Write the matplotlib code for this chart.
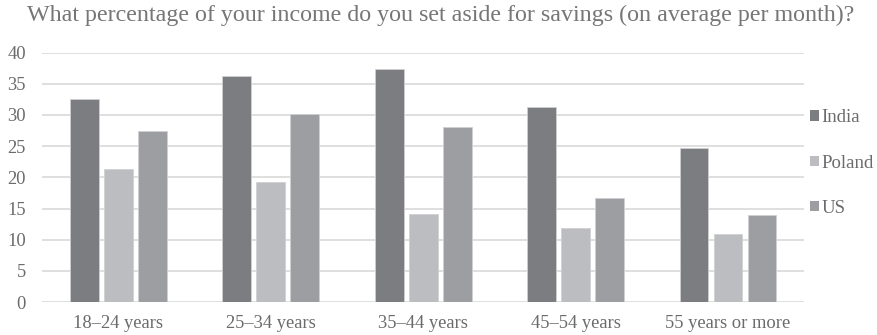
import numpy as np
import matplotlib.pyplot as plt
from matplotlib.patches import Patch

categories = ["18\u201324 years", "25\u201334 years", "35\u201344 years", "45\u201354 years", "55 years or more"]
india = [32.5, 36.3, 37.4, 31.3, 24.7]
poland = [21.3, 19.3, 14.1, 11.9, 10.9]
us = [27.4, 30.1, 28.1, 16.7, 14.0]

series = [("India", india, "#7c7d81"), ("Poland", poland, "#bcbdc1"), ("US", us, "#9d9ea2")]

plt.rcParams['font.family'] = ['Liberation Serif', 'DejaVu Serif']
text_color = "#6b6b6b"

fig = plt.figure(figsize=(8.77, 3.35), dpi=100)
ax = fig.add_axes([0.048, 0.098, 0.869, 0.745])

x = np.arange(len(categories))
step = 0.223
width = 0.19
for i, (name, vals, col) in enumerate(series):
    ax.bar(x + (i - 1) * step, vals, width, color=col, edgecolor="#d0d0d3", linewidth=0.6, zorder=3, label=name)

ax.set_xlim(-0.5, len(categories) - 0.5)
ax.set_ylim(0, 40)
ax.set_yticks(range(0, 41, 5))
ax.set_xticks(x)
ax.set_xticklabels(categories)
ax.yaxis.grid(True, color="#d9d9d9", linewidth=1.2, zorder=0)
ax.set_axisbelow(True)
for s in ax.spines.values():
    s.set_visible(False)
ax.tick_params(axis='both', length=0, labelsize=13.3, colors=text_color, pad=9)
ax.tick_params(axis='y', pad=11.5)

fig.text(0.502, 0.955, "What percentage of your income do you set aside for savings (on average per month)?",
         ha='center', va='center', fontsize=17.3, color="#767676")

handles = [Patch(facecolor=c, edgecolor='none') for _, _, c in series]
ax.legend(handles, [n for n, _, _ in series], loc='upper left', bbox_to_anchor=(1.0, 0.795),
          frameon=False, fontsize=13.5, labelcolor=text_color, handlelength=0.5, handleheight=0.5,
          handletextpad=0.12, labelspacing=1.5, borderpad=0, borderaxespad=0.3)

fig.savefig("out.png", dpi=100)
